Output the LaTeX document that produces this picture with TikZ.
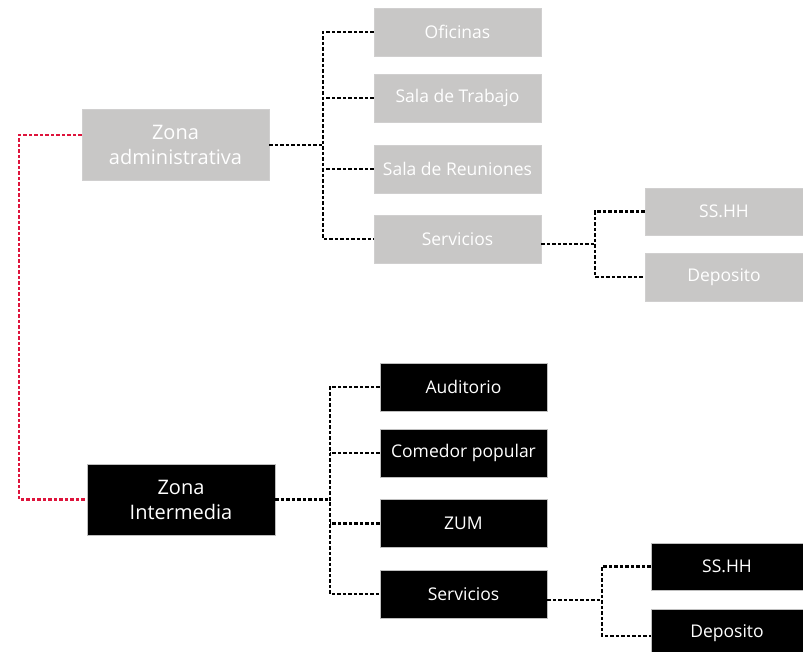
\documentclass[tikz,border=0pt]{standalone}
\usepackage{fontspec}
\setmainfont{Open Sans}
\usetikzlibrary{calc}
\definecolor{boxgray}{RGB}{200,199,198}
\definecolor{linkred}{RGB}{222,20,60}
\tikzset{
  x=1pt,y=-1pt,
  graybox/.style={fill=boxgray,draw=boxgray!85!white,line width=0.6pt,text=white,align=center,inner sep=0pt,font=\fontsize{17.5}{21}\selectfont},
  blackbox/.style={fill=black,draw=black!25,line width=0.6pt,text=white,align=center,inner sep=0pt,font=\fontsize{17.5}{21}\selectfont},
  small/.style={minimum width=167pt,minimum height=48pt},
  big/.style={minimum width=187pt,minimum height=71pt,font=\fontsize{20}{25}\selectfont},
  link/.style={draw=black,line width=2.4pt,dash pattern=on 3.5pt off 2pt},
  redlink/.style={draw=linkred,line width=2.4pt,dash pattern=on 3.5pt off 2pt},
}
\begin{document}
\begin{tikzpicture}
\useasboundingbox (0,0) rectangle (803,652);
\clip (0,0) rectangle (803,652);
% upper group
\node[graybox,big] (za) at (175.5,145) {Zona\\administrativa};
\node[graybox,small] (of) at (457.5,32) {Oficinas};
\node[graybox,small] (st) at (457.5,98) {Sala de Trabajo};
\node[graybox,small] (sr) at (457.5,169) {Sala de Reuniones};
\node[graybox,small] (sv1) at (457.5,239) {Servicios};
\node[graybox,minimum width=158pt,minimum height=47pt] (sh1) at (724,211.5) {SS.HH};
\node[graybox,minimum width=158pt,minimum height=48pt] (dp1) at (724,277) {Deposito};
% lower group
\node[blackbox,big,minimum width=188pt] (zi) at (181,499.5) {Zona\\Intermedia};
\node[blackbox,small] (au) at (463.5,387) {Auditorio};
\node[blackbox,small] (cp) at (463.5,453) {Comedor popular};
\node[blackbox,small] (zum) at (463.5,523.5) {ZUM};
\node[blackbox,small] (sv2) at (463.5,594) {Servicios};
\node[blackbox,minimum width=152pt,minimum height=47pt] (sh2) at (727,566.5) {SS.HH};
\node[blackbox,minimum width=152pt,minimum height=48pt] (dp2) at (727,633) {Deposito};
% junctions
\coordinate (j1) at (323,145);
\coordinate (j2) at (595,244);
\coordinate (j3) at (330,499.5);
\coordinate (j4) at (602,600);
\coordinate (r1) at (19,135);
\coordinate (r2) at (19,499.5);
% upper connectors
\draw[link] (za.east |- j1) -- (j1);
\draw[link] (of.west) -| (j1) |- (sv1.west);
\draw[link] (st.west) -- (st.west -| j1);
\draw[link] (sr.west) -- (sr.west -| j1);
\draw[link] (sv1.east |- j2) -- (j2);
\draw[link] (sh1.west) -| (j2) |- (dp1.west);
% lower connectors
\draw[link] (zi.east) -- (j3);
\draw[link] (au.west) -| (j3) |- (sv2.west);
\draw[link] (cp.west) -- (cp.west -| j3);
\draw[link] (zum.west) -- (zum.west -| j3);
\draw[link] (sv2.east |- j4) -- (j4);
\draw[link] (sh2.west) -| (j4) |- (dp2.west |- 0,636);
% red link
\draw[redlink] (za.west |- r1) -- (r1) -- (r2) -- (zi.west);
\end{tikzpicture}
\end{document}
